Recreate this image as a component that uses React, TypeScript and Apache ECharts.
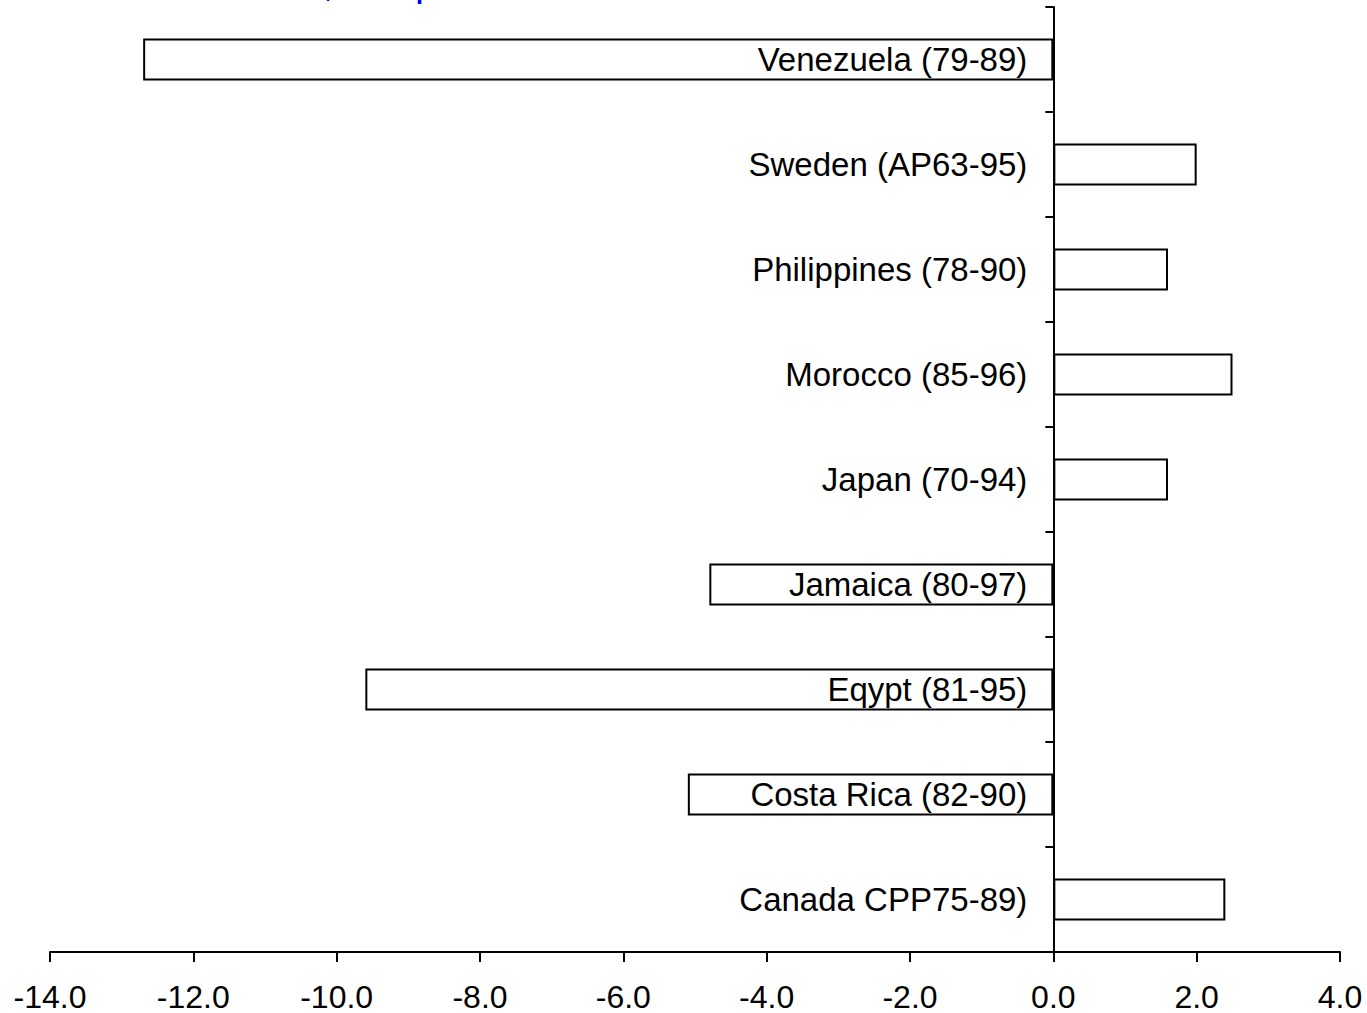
import React, { useEffect, useRef } from "react";
import * as echarts from "echarts";

const categories = [
  "Venezuela (79-89)",
  "Sweden (AP63-95)",
  "Philippines (78-90)",
  "Morocco (85-96)",
  "Japan (70-94)",
  "Jamaica (80-97)",
  "Eqypt (81-95)",
  "Costa Rica (82-90)",
  "Canada CPP75-89)",
];
const values = [-12.7, 2.0, 1.6, 2.5, 1.6, -4.8, -9.6, -5.1, 2.4];
const xMin = -14;
const xMax = 4;
const xStep = 2;
const titleLeft = "Real Returns in Excess of Bank Rates,";
const titleRight = "Simple Mean";

export default function App() {
  const ref = useRef<HTMLDivElement>(null);
  useEffect(() => {
    document.body.style.margin = "0";
    const chart = echarts.init(ref.current!, null, { renderer: "svg" });
    const font = "Liberation Sans, Arial, sans-serif";
    chart.setOption({
      animation: false,
      backgroundColor: "#ffffff",
      grid: {
        left: 50,
        right: 27,
        top: 7,
        bottom: 61,
        containLabel: false,
        outerBoundsMode: "none",
      },
      graphic: [
        {
          type: "text",
          x: 334,
          y: 2,
          style: {
            text: titleLeft,
            fill: "#0000ff",
            font: `40px ${font}`,
            textAlign: "right",
            textVerticalAlign: "bottom",
          },
        },
        {
          type: "text",
          x: 346,
          y: 2,
          style: {
            text: titleRight,
            fill: "#0000ff",
            font: `40px ${font}`,
            textAlign: "left",
            textVerticalAlign: "bottom",
          },
        },
      ],
      xAxis: {
        type: "value",
        min: xMin,
        max: xMax,
        interval: xStep,
        splitLine: { show: false },
        axisLine: { show: true, lineStyle: { color: "#000", width: 2 } },
        axisTick: { show: true, length: 10, lineStyle: { color: "#000", width: 2 } },
        axisLabel: {
          color: "#000",
          fontFamily: font,
          fontSize: 32,
          lineHeight: 30,
          margin: 30,
          formatter: (v: number) => v.toFixed(1),
        },
      },
      yAxis: {
        type: "category",
        data: categories,
        inverse: true,
        z: 10,
        axisLine: { show: true, onZero: true, lineStyle: { color: "#000", width: 2 } },
        axisTick: { show: true, length: 8, lineStyle: { color: "#000", width: 2 } },
        axisLabel: { show: false },
        splitLine: { show: false },
      },
      series: [
        {
          type: "bar",
          data: values,
          barWidth: "40%",
          z: 2,
          itemStyle: { color: "rgba(255,255,255,0)", borderColor: "#000", borderWidth: 2 },
        },
        {
          type: "scatter",
          data: categories.map((c) => [0, c]),
          symbolSize: 0,
          z: 5,
          silent: true,
          itemStyle: { opacity: 1 },
          label: {
            show: true,
            position: "left",
            distance: 26,
            color: "#000",
            opacity: 1,
            fontFamily: font,
            fontSize: 33,
            formatter: (p: any) => categories[p.dataIndex],
          },
        },
      ],
    });
    return () => chart.dispose();
  }, []);
  return <div ref={ref} style={{ width: 1367, height: 1013 }} />;
}
